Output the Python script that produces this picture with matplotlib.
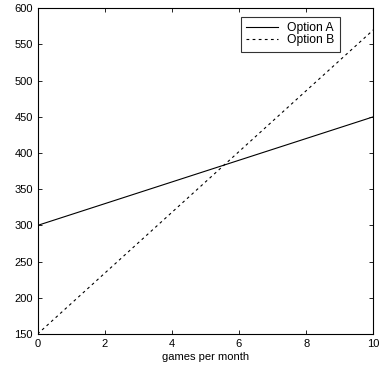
import numpy as np
import matplotlib
matplotlib.use("Agg")
import matplotlib.pyplot as plt

plt.rcParams['font.family'] = ['Liberation Sans', 'DejaVu Sans']

games = [0, 10]
option_a = [300, 450]
option_b = [150, 570]

fig = plt.figure(figsize=(3.79, 3.72), dpi=100)
ax = fig.add_axes([0.099, 0.102, 0.886, 0.876])

ax.plot(games, option_a, "-", color="black", lw=0.8, label="Option A")
ax.plot(games, option_b, "--", color="black", lw=0.8, dashes=(2.5, 3), label="Option B")

ax.set_xlim(0, 10)
ax.set_ylim(150, 600)
ax.set_xticks(np.arange(0, 11, 2))
ax.set_yticks(np.arange(150, 601, 50))
ax.tick_params(direction="in", top=True, right=True, labelsize=8, length=3, width=0.6)
for s in ax.spines.values():
    s.set_linewidth(0.8)
ax.set_xlabel("games per month", fontsize=8, labelpad=2)

leg = ax.legend(loc="upper right", bbox_to_anchor=(0.901, 0.973), fontsize=8.7,
                frameon=True, fancybox=False, edgecolor="black", handlelength=2.6,
                borderpad=0.45, labelspacing=0.0, handletextpad=0.8,
                borderaxespad=0)
leg.get_frame().set_linewidth(0.8)

fig.savefig("out.png", dpi=100)
